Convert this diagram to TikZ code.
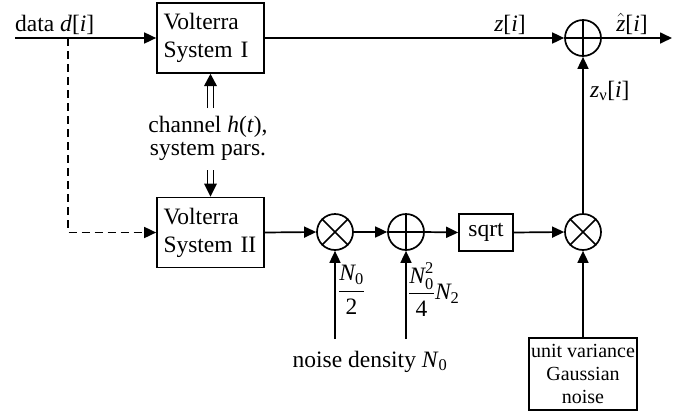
\documentclass[tikz,border=0pt]{standalone}
\usepackage{amsmath}
\usepackage{fontspec}
\setmainfont{Liberation Serif}
\usetikzlibrary{arrows.meta}
\begin{document}
\begin{tikzpicture}[x=1pt,y=-1pt,
  every node/.style={font=\fontsize{23.5}{28}\selectfont, inner sep=0pt},
  ln/.style={line width=1.7pt},
  arr/.style={line width=1.7pt, -{Triangle[length=12pt,width=11pt]}},
  dsh/.style={line width=1.7pt, dash pattern=on 8pt off 5pt, -{Triangle[length=12pt,width=11pt]}},
  blk/.style={draw, line width=1.7pt, align=left, minimum width=107pt, minimum height=70pt, text width=94pt},
  circ/.style={draw, circle, line width=1.7pt, minimum size=36pt},
  smallbox/.style={draw, line width=1.7pt, minimum width=54pt, minimum height=37pt},
  gbox/.style={draw, line width=1.7pt, align=center, minimum width=108pt, minimum height=72pt, font=\fontsize{20}{23}\selectfont},
  dline/.style={line width=1.3pt}
]
\useasboundingbox (0,0) rectangle (694,413);

% blocks
\node[blk] (b1) at (210.5,38) {Volterra\\System I};
\node[blk] (b2) at (210.5,232.5) {Volterra\\System II};
\node[circ] (m1) at (335,232) {};
\node[circ] (a1) at (406,232) {};
\node[smallbox] (sq) at (486,232.5) {sqrt};
\node[circ] (m2) at (583,232) {};
\node[circ] (a2) at (583,38) {};
\node[gbox] (g) at (583,374) {unit variance\\Gaussian\\noise};

% cross marks
\draw[ln] (m1.north east) -- (m1.south west) (m1.north west) -- (m1.south east);
\draw[ln] (m2.north east) -- (m2.south west) (m2.north west) -- (m2.south east);
\draw[ln] (a1.north) -- (a1.south) (a1.west) -- (a1.east);
\draw[ln] (a2.north) -- (a2.south) (a2.west) -- (a2.east);

% coordinates
\coordinate (in) at (15,38);
\coordinate (br) at (68,38);
\coordinate (out) at (672,38);
\coordinate (n1) at (335,339);
\coordinate (n2) at (406,339);
\coordinate (cu) at (210.5,108);
\coordinate (cuh) at (210.5,86);
\coordinate (cd) at (210.5,170);
\coordinate (cdh) at (210.5,183.5);

% connectors
\draw[arr] (in) -- (b1.west);
\draw[dsh] (br) |- (b2.west);
\draw[arr] (b1.east) -- (a2.west);
\draw[arr] (a2.east) -- (out);
\draw[arr] (b2.east) -- (m1.west);
\draw[arr] (m1.east) -- (a1.west);
\draw[arr] (a1.east) -- (sq.west);
\draw[arr] (sq.east) -- (m2.west);
\draw[arr] (m2.north) -- (a2.south);
\draw[arr] (g.north) -- (m2.south);
\draw[arr] (n1) -- (m1.south);
\draw[arr] (n2) -- (a1.south);

% double arrows
\draw[dline] ([xshift=-2.8pt]cu) -- ([xshift=-2.8pt]cuh) ([xshift=2.8pt]cu) -- ([xshift=2.8pt]cuh);
\fill (b1.south) -- ([xshift=-6.5pt]cuh) -- ([xshift=6.5pt]cuh) -- cycle;
\draw[dline] ([xshift=-2.8pt]cd) -- ([xshift=-2.8pt]cdh) ([xshift=2.8pt]cd) -- ([xshift=2.8pt]cdh);
\fill (b2.north) -- ([xshift=-6.5pt]cdh) -- ([xshift=6.5pt]cdh) -- cycle;

% labels
\node[anchor=base west] (ld) at (15,31) {data \textit{d}[\textit{i}]};
\node[align=center, font=\fontsize{23.5}{23}\selectfont] (ch) at (208,138) {channel \textit{h}(\textit{t}),\\system pars.};
\node[anchor=base] (lz) at (510,31) {\textit{z}[\textit{i}]};
\node[anchor=base] (lzh) at (632,31) {$\hat{\text{\itshape z}}$[\textit{i}]};
\node[anchor=base west] (lzv) at (590,97) {\textit{z}$_{\text{ν}}$[\textit{i}]};
\node[anchor=west] (f1) at (338,290) {$\dfrac{\text{\itshape N}_{\text{0}}}{\text{2}}$};
\node[anchor=west] (f2) at (408,290) {$\dfrac{\text{\itshape N}_{\text{0}}^{\text{2}}}{\text{4}}\text{\itshape N}_{\text{2}}$};
\node[anchor=base] (nd) at (370,367) {noise density \textit{N}$_{\text{0}}$};
\end{tikzpicture}
\end{document}
